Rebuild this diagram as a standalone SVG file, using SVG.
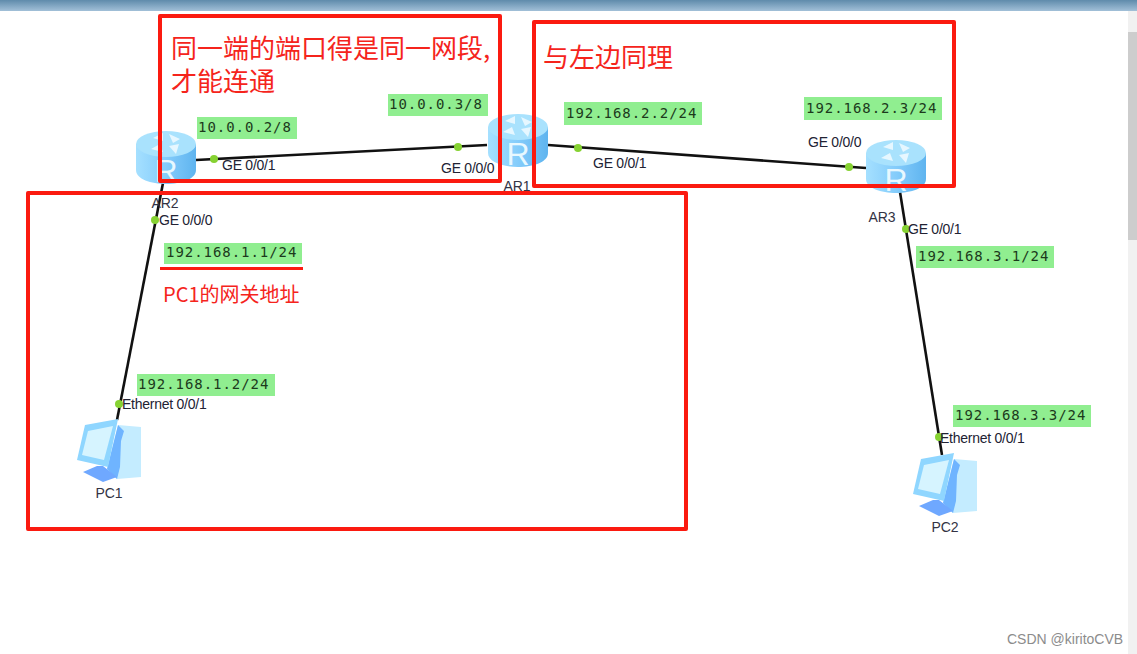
<svg xmlns="http://www.w3.org/2000/svg" width="1137" height="654" viewBox="0 0 1137 654">
<style>
.ip{font:14px "DejaVu Sans Mono",monospace;fill:#1c3a1c;letter-spacing:.95px}
.bg{fill:#90ee90}
.port{font:14px "Liberation Sans",Arial,sans-serif;fill:#223;letter-spacing:-.25px}
.name{font:14px "Liberation Sans",Arial,sans-serif;fill:#334;text-anchor:middle}
.note{font-family:"Noto Sans CJK SC","Liberation Sans",sans-serif;fill:#f5241c}
.box{fill:none;stroke:#fb1a10;stroke-width:4;stroke-linejoin:round}
.wire{stroke:#111;stroke-width:2.6;fill:none}
.dot{fill:#86d232}
.rtxt{font:32px "Liberation Sans",Arial,sans-serif;fill:#e8f8ff;text-anchor:middle}
</style>
<defs>
<linearGradient id="side" x1="0" x2="1" y1="0" y2="0"><stop offset="0" stop-color="#a5e0ff"/><stop offset=".5" stop-color="#84ccfb"/><stop offset="1" stop-color="#5fb4ef"/></linearGradient>
<linearGradient id="bar" x1="0" x2="0" y1="0" y2="1"><stop offset="0" stop-color="#5f8bab"/><stop offset="1" stop-color="#a2c0d8"/></linearGradient>
<g id="router">
<path d="M-30 -13V13C-30 22 -15 27 0 27S30 22 30 13V-13Z" fill="url(#side)"/>
<ellipse cx="0" cy="-13" rx="30" ry="13" fill="#a9e2fd"/>
<path d="M-13 -19L-3 -24L-3 -16ZM3 -23L14 -18L7 -14ZM-15 -8L-6 -13L-3 -5ZM3 -11L13 -13L10 -3Z" fill="#e6f7ff"/>
<text class="rtxt" x="0" y="25">R</text>
</g>
<g id="pc">
<path d="M41 6L64 8L64 58L40 60L30 50Z" fill="#c4ecff"/>
<path d="M41 6L47 12L44 22L43 48L40 60L30 50Z" fill="#6fb4ff"/>
<path d="M8 6L41 0L31 48L0 41Z" fill="#8fd6ff"/>
<path d="M11 12L36 7L27 41L5 36Z" fill="#d6f4ff"/>
<path d="M6 53L20 47L26 47L40 58L26 63Z" fill="#6fa8ff"/>
</g>
</defs>
<rect width="1137" height="654" fill="#fff"/>
<rect width="1137" height="11" fill="url(#bar)"/>
<rect x="1128" y="11" width="9" height="643" fill="#f1f1f1"/>
<rect x="1128" y="32" width="9" height="208" fill="#cdcdcd"/>
<g id="connectors">
<path class="wire" d="M196 160L487 145"/>
<path class="wire" d="M548 145L866 168"/>
<path class="wire" d="M163 183L117 420"/>
<path class="wire" d="M900 192L942 455"/>
</g>
<g id="AR2"><use href="#router" x="166" y="157"/><text class="name" x="165" y="208">AR2</text></g>
<g id="AR1"><use href="#router" x="518" y="140"/><text class="name" x="517" y="191">AR1</text></g>
<g id="AR3"><use href="#router" x="896" y="166"/><text class="name" x="882" y="222">AR3</text></g>
<g id="PC1"><use href="#pc" x="77" y="419"/><text class="name" x="109" y="498">PC1</text></g>
<g id="PC2"><use href="#pc" x="913" y="453"/><text class="name" x="945" y="532">PC2</text></g>
<g id="ports">
<circle class="dot" cx="214" cy="159" r="4"/><circle class="dot" cx="458" cy="147" r="4"/>
<circle class="dot" cx="578" cy="148" r="4"/><circle class="dot" cx="849" cy="167" r="4"/>
<circle class="dot" cx="155" cy="220" r="4"/><circle class="dot" cx="119" cy="404" r="4"/>
<circle class="dot" cx="906" cy="229" r="4"/><circle class="dot" cx="939" cy="437" r="4"/>
<text class="port" x="222" y="170">GE 0/0/1</text>
<text class="port" x="441" y="173">GE 0/0/0</text>
<text class="port" x="593" y="168">GE 0/0/1</text>
<text class="port" x="808" y="147">GE 0/0/0</text>
<text class="port" x="159" y="225">GE 0/0/0</text>
<text class="port" x="908" y="234">GE 0/0/1</text>
<text class="port" x="122" y="409">Ethernet 0/0/1</text>
<text class="port" x="940" y="443">Ethernet 0/0/1</text>
</g>
<g id="addresses">
<rect class="bg" x="197" y="117" width="100" height="22"/><text class="ip" x="198" y="132">10.0.0.2/8</text>
<rect class="bg" x="388" y="94" width="100" height="22"/><text class="ip" x="389" y="109">10.0.0.3/8</text>
<rect class="bg" x="564" y="102" width="138" height="23"/><text class="ip" x="566" y="118">192.168.2.2/24</text>
<rect class="bg" x="804" y="97" width="138" height="23"/><text class="ip" x="806" y="113">192.168.2.3/24</text>
<rect class="bg" x="164" y="243" width="138" height="21"/><text class="ip" x="166" y="257">192.168.1.1/24</text>
<rect class="bg" x="137" y="374" width="138" height="22"/><text class="ip" x="138" y="389">192.168.1.2/24</text>
<rect class="bg" x="916" y="246" width="138" height="22"/><text class="ip" x="918" y="261">192.168.3.1/24</text>
<rect class="bg" x="953" y="405" width="138" height="22"/><text class="ip" x="955" y="420">192.168.3.3/24</text>
</g>
<g id="notes">
<rect class="box" x="160" y="16" width="340" height="165"/>
<rect class="box" x="534" y="22" width="420" height="164"/>
<rect class="box" x="28" y="193" width="658" height="336"/>
<path d="M160 268.500H303" stroke="#fb1a10" stroke-width="3"/>
<text class="note" x="171" y="58" font-size="26">同一端的端口得是同一网段,</text>
<text class="note" x="171" y="91" font-size="26">才能连通</text>
<text class="note" x="543" y="67" font-size="26">与左边同理</text>
<text class="note" x="163" y="302" font-size="20">PC1的网关地址</text>
</g>
<text x="1007" y="644" font-family="'Liberation Sans',Arial,sans-serif" font-size="14" fill="#8c8c8c">CSDN @kiritoCVB</text>
</svg>
